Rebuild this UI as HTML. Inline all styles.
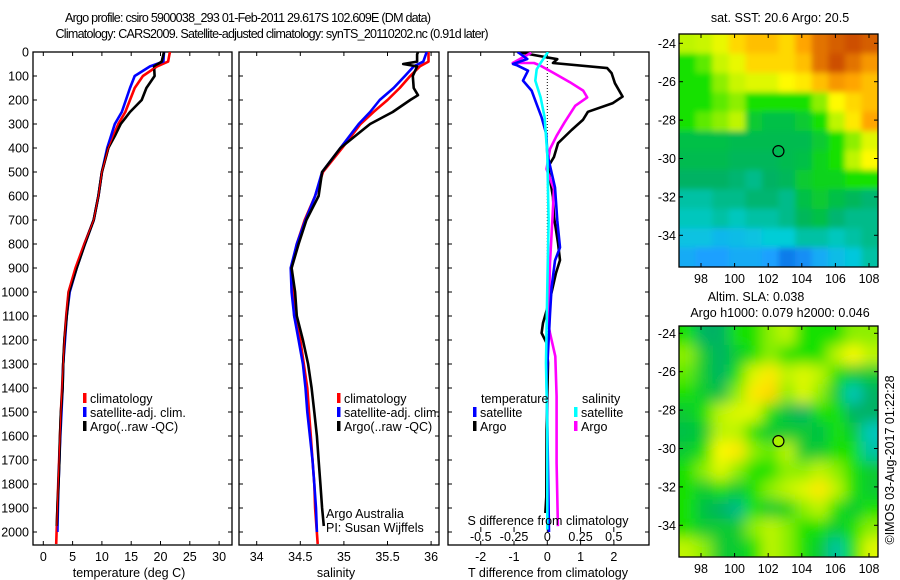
<!DOCTYPE html>
<html><head><meta charset="utf-8"><style>
body{margin:0;background:#fff}
svg{display:block;font-family:"Liberation Sans",sans-serif}
text{fill:#000}
</style></head><body>
<svg id="fig" width="900" height="580" viewBox="0 0 900 580">
<defs>
<clipPath id="c1"><rect x="33" y="52" width="199" height="493"/></clipPath>
<clipPath id="c2"><rect x="239" y="52" width="200" height="493"/></clipPath>
<clipPath id="c3"><rect x="448" y="52" width="201" height="493"/></clipPath>
<clipPath id="cm1"><rect x="679" y="34" width="199" height="233"/></clipPath>
<clipPath id="cm2"><rect x="679" y="326" width="199" height="231"/></clipPath>
<filter id="blur1" x="-5%" y="-5%" width="110%" height="110%"><feGaussianBlur stdDeviation="3"/></filter>
<filter id="blur2" x="-5%" y="-5%" width="110%" height="110%"><feGaussianBlur stdDeviation="7"/></filter>
</defs>
<text x="248" y="22" font-size="12.5" text-anchor="middle" textLength="366" lengthAdjust="spacing">Argo profile: csiro 5900038_293 01-Feb-2011 29.617S 102.609E (DM data)</text>
<text x="272" y="38" font-size="12.5" text-anchor="middle" textLength="433" lengthAdjust="spacing">Climatology: CARS2009. Satellite-adjusted climatology: synTS_20110202.nc (0.91d later)</text>
<g id="g"></g>
</svg>
<script>
// ---- data ----
const tArgoDepth=[0,10,40,60,100,150,200,250,300,350,400,500,600,700,800,900,1000,1100,1200,1300,1400,1500,1600,1700,1800,1900,1975];
const tArgo=[20.6,20.5,20.2,18.9,19.0,17.6,16.8,14.8,13.2,12.2,11.1,10.0,9.4,8.6,7.1,5.7,4.4,4.0,3.6,3.4,3.3,3.0,2.85,2.75,2.6,2.4,2.3];
const climDepth=[0,40,60,100,150,200,250,300,400,500,600,700,800,900,1000,1100,1200,1300,1400,1500,1600,1700,1800,1900,2050];
const tClim=[21.6,21.3,19.4,17.0,15.6,14.8,14.0,12.8,11.1,10.0,9.4,8.6,7.0,5.5,4.3,3.9,3.6,3.4,3.2,3.0,2.85,2.7,2.55,2.4,2.2];
const satDepth=[0,40,60,100,150,200,250,300,400,500,600,700,800,900,1000,1100,1200,1300,1400,1500,1600,1700,1800,1900,2000];
const tSat=[20.6,20.5,18.2,15.6,14.8,14.1,13.4,12.2,10.9,10.0,9.4,8.6,7.1,5.7,4.5,4.0,3.7,3.4,3.3,3.1,2.9,2.75,2.6,2.5,2.4];
const sArgoDepth=[0,10,40,50,60,100,150,180,200,250,300,350,400,500,600,700,800,900,1000,1100,1200,1300,1400,1500,1600,1700,1800,1900,1975];
const sArgo=[35.85,35.84,35.84,35.68,35.84,35.79,35.8,35.85,35.76,35.56,35.3,35.13,34.96,34.75,34.71,34.57,34.48,34.4,34.44,34.46,34.53,34.59,34.63,34.66,34.69,34.71,34.73,34.75,34.77];
const sClim=[35.97,35.97,35.87,35.76,35.64,35.5,35.34,35.19,34.98,34.76,34.67,34.55,34.46,34.4,34.42,34.43,34.5,34.54,34.58,34.6,34.62,34.64,34.66,34.67,34.7];
const sSat=[35.95,35.91,35.8,35.7,35.57,35.41,35.3,35.17,34.96,34.75,34.67,34.56,34.46,34.39,34.4,34.43,34.48,34.53,34.56,34.58,34.61,34.64,34.66,34.68,34.69];
const dTArgoDepth=[0,15,30,46,67,88,130,186,213,249,283,325,380,437,479,604,687,796,867,921,1019,1129,1171,1213,1296,1575,1854,1921];
const dTArgo=[-0.9,-0.3,0.3,0.17,1.8,1.93,2.03,2.26,1.97,1.22,1.07,0.73,0.32,0.2,0.02,0.17,0.2,0.32,0.38,0.26,0.1,-0.13,-0.17,-0.02,0.02,-0.02,-0.03,-0.06];
const dTSatDepth=[0,29,50,56,78,119,161,217,272,342,425,564,703,814,869,981,1092,1365,2000];
const dTSat=[-0.89,-0.6,-1.03,-0.9,-0.58,-0.73,-0.47,-0.32,-0.17,-0.03,0,0.23,0.3,0.38,0.23,0.13,0.08,-0.02,0.05];
const dSArgoDepth=[3,46,46,57,85,126,161,189,224,293,349,404,488,571,683,877,1140,1171,1268,1435,1713,1976];
const dSArgo=[-0.12,-0.26,-0.1,-0.05,0.04,0.17,0.27,0.3,0.21,0.13,0.07,0.02,-0.006,0.05,0.04,0.02,0.01,0.02,0.06,0.07,0.07,0.08];
const dSSatDepth=[0,46,72,119,189,272,425,703,981,1296,1575,1990];
const dSSat=[0.005,-0.05,-0.08,-0.09,-0.05,-0.02,0,0.01,0,-0.01,0,0];
const depthTicks=[0,100,200,300,400,500,600,700,800,900,1000,1100,1200,1300,1400,1500,1600,1700,1800,1900,2000];
const tTicks=[0,5,10,15,20,25,30];
const sTicks=[34,34.5,35,35.5,36];
const sTickLabels=["34","34.5","35","35.5","36"];
const dTTicks=[-2,-1,0,1,2];
const dSTicks=[-0.5,-0.25,0,0.25,0.5];
const dSTickLabels=["-0.5","-0.25","0","0.25","0.5"];
const lonTicks=[98,100,102,104,106,108];
const latTicks=[-24,-26,-28,-30,-32,-34];
const argoLon=102.609, argoLat=-29.617;
const sstGrid=[
[0.62,0.63,0.66,0.72,0.75,0.75,0.72,0.78,0.85,0.88,0.9,0.88],
[0.55,0.58,0.63,0.66,0.72,0.72,0.72,0.75,0.85,0.9,0.85,0.8],
[0.55,0.55,0.6,0.63,0.65,0.65,0.68,0.7,0.75,0.8,0.78,0.75],
[0.55,0.55,0.58,0.6,0.55,0.55,0.55,0.55,0.6,0.68,0.72,0.75],
[0.55,0.58,0.6,0.62,0.5,0.48,0.48,0.5,0.55,0.62,0.7,0.78],
[0.48,0.48,0.48,0.47,0.47,0.47,0.47,0.47,0.5,0.55,0.6,0.65],
[0.47,0.47,0.47,0.46,0.46,0.46,0.47,0.48,0.52,0.55,0.62,0.68],
[0.45,0.45,0.45,0.44,0.42,0.45,0.46,0.5,0.52,0.52,0.55,0.55],
[0.4,0.4,0.42,0.42,0.44,0.44,0.42,0.48,0.5,0.48,0.46,0.44],
[0.38,0.38,0.4,0.38,0.4,0.4,0.42,0.46,0.48,0.44,0.42,0.42],
[0.34,0.34,0.32,0.33,0.34,0.36,0.36,0.4,0.4,0.38,0.4,0.42],
[0.3,0.28,0.28,0.3,0.3,0.28,0.22,0.25,0.3,0.33,0.35,0.4]];
const slaGrid=[
[0.55,0.45,0.45,0.55,0.55,0.6,0.62,0.55,0.55,0.55,0.6,0.6],
[0.6,0.5,0.45,0.5,0.55,0.6,0.55,0.55,0.55,0.62,0.68,0.62],
[0.58,0.5,0.45,0.55,0.65,0.7,0.62,0.65,0.62,0.55,0.5,0.5],
[0.55,0.5,0.48,0.6,0.7,0.72,0.6,0.65,0.6,0.5,0.38,0.45],
[0.5,0.55,0.62,0.65,0.65,0.55,0.48,0.45,0.55,0.55,0.45,0.45],
[0.48,0.5,0.62,0.62,0.55,0.5,0.5,0.5,0.48,0.55,0.5,0.38],
[0.5,0.55,0.68,0.7,0.6,0.58,0.62,0.5,0.5,0.55,0.55,0.4],
[0.55,0.6,0.65,0.6,0.55,0.55,0.6,0.6,0.62,0.6,0.55,0.5],
[0.55,0.5,0.55,0.5,0.55,0.6,0.62,0.65,0.7,0.62,0.55,0.5],
[0.55,0.48,0.45,0.42,0.55,0.5,0.52,0.6,0.62,0.55,0.5,0.55],
[0.55,0.5,0.5,0.5,0.6,0.62,0.6,0.55,0.55,0.5,0.55,0.6],
[0.62,0.6,0.5,0.5,0.55,0.62,0.6,0.55,0.5,0.4,0.55,0.65]];

// ---- helpers ----
const NS='http://www.w3.org/2000/svg';
const G=document.getElementById('g');
function mk(tag,attrs,parent){const e=document.createElementNS(NS,tag);for(const k in attrs)e.setAttribute(k,attrs[k]);(parent||G).appendChild(e);return e;}
function txt(x,y,s,size,anchor,parent){const e=mk('text',{x:x,y:y,'font-size':size,'text-anchor':anchor||'middle'},parent);e.textContent=s;return e;}
const yD=d=>52+d*0.24;
const xT=t=>43.3+t*5.86;
const xS=s=>256.7+(s-34)*87.2;
const xDT=v=>547.3+v*33.3;
const xDS=v=>547.3+v*133;
function line(xs,ds,fx,color,clip,name,w){
  const pts=xs.map((v,i)=>fx(v).toFixed(1)+','+yD(ds[i]).toFixed(1)).join(' ');
  const p=mk('polyline',{points:pts,fill:'none',stroke:color,'stroke-width':w||2.6,'clip-path':'url(#'+clip+')','stroke-linejoin':'round'});
  
  
}
function frame(x0,x1,name){
  const r=mk('rect',{x:x0,y:52,width:x1-x0,height:493,fill:'none',stroke:'#000','stroke-width':1.3});
  
  
}
function depthAxis(x0,x1,labels){
  depthTicks.forEach(d=>{
    const y=yD(d);
    mk('line',{x1:x0,y1:y,x2:x0+4,y2:y,stroke:'#000'});
    mk('line',{x1:x1-4,y1:y,x2:x1,y2:y,stroke:'#000'});
    if(labels){const t=txt(29,y+4.5,String(d),12.5,'end');
      
      }
  });
}
function xTicks(vals,fx,labs,y0,y1,ly){
  vals.forEach((v,i)=>{const x=fx(v);
    mk('line',{x1:x,y1:y1,x2:x,y2:y1-4,stroke:'#000'});
    if(y0!==null)mk('line',{x1:x,y1:y0,x2:x,y2:y0+4,stroke:'#000'});
    const t=txt(x,ly,labs[i],12.5);
    
    
  });
}
function legendItem(x,y,color,label,name){
  mk('rect',{x:x,y:y-10,width:3.5,height:10,fill:color});
  const t=txt(x+7,y,label,12.5,'start');
  
  
}

// ---- panel 1 temperature ----
frame(33,232,'temperature-panel');
depthAxis(33,232,true);
xTicks(tTicks,xT,tTicks.map(String),52,545,561);
line(tClim,climDepth,xT,'#ff0000','c1','climatology-temperature-line');
line(tSat,satDepth,xT,'#0000ff','c1','satellite-temperature-line');
line(tArgo,tArgoDepth,xT,'#000000','c1','argo-temperature-line');
line(tClim,climDepth,xT,'#ff0000','c1','climatology-temperature-line-top',1.2);
let e=txt(129,577,'temperature (deg C)',12.5);
legendItem(83,403,'#ff0000','climatology','legend-climatology');
legendItem(83,417,'#0000ff','satellite-adj. clim.','legend-satellite-adj');
legendItem(83,431,'#000000','Argo(..raw -QC)','legend-argo');

// ---- panel 2 salinity ----
frame(239,439,'salinity-panel');
depthAxis(239,439,false);
xTicks(sTicks,xS,sTickLabels,52,545,561);
line(sClim,climDepth,xS,'#ff0000','c2','climatology-salinity-line');
line(sSat,satDepth,xS,'#0000ff','c2','satellite-salinity-line');
line(sArgo,sArgoDepth,xS,'#000000','c2','argo-salinity-line');
e=txt(336,577,'salinity',12.5);
legendItem(337,403,'#ff0000','climatology','legend-climatology-2');
legendItem(337,417,'#0000ff','satellite-adj. clim.','legend-satellite-adj-2');
legendItem(337,431,'#000000','Argo(..raw -QC)','legend-argo-2');
e=txt(326,518,'Argo Australia',12.5,'start');
e=txt(326,532,'PI: Susan Wijffels',12.5,'start');

// ---- panel 3 differences ----
frame(448,649,'difference-panel');
depthAxis(448,649,false);
mk('line',{x1:xDT(0),y1:52,x2:xDT(0),y2:525,stroke:'#000','stroke-dasharray':'1,2'});
xTicks(dTTicks,xDT,dTTicks.map(String),52,545,561);
dSTicks.forEach((v,i)=>{const x=xDS(v);mk('line',{x1:x,y1:532,x2:x,y2:527,stroke:'#000'});
  const t=txt(x,541,dSTickLabels[i],12.5);});
line(dTArgo,dTArgoDepth,xDT,'#000000','c3','argo-temperature-diff-line');
line(dSArgo,dSArgoDepth,xDS,'#ff00ff','c3','argo-salinity-diff-line');
line(dTSat,dTSatDepth,xDT,'#0000ff','c3','satellite-temperature-diff-line');
line(dSSat,dSSatDepth,xDS,'#00ffff','c3','satellite-salinity-diff-line');
e=txt(548,525,'S difference from climatology',12.5);
e=txt(548,577,'T difference from climatology',12.5);
e=txt(481,403,'temperature',12.5,'start');
e=txt(582,403,'salinity',12.5,'start');
legendItem(473,417,'#0000ff','satellite','legend-t-satellite');
legendItem(473,431,'#000000','Argo','legend-t-argo');
legendItem(574,417,'#00ffff','satellite','legend-s-satellite');
legendItem(574,431,'#ff00ff','Argo','legend-s-argo');

// ---- maps ----
const cstops=[[0,[0,0,160]],[0.15,[0,80,210]],[0.28,[30,160,255]],[0.36,[0,205,215]],[0.45,[0,178,100]],[0.55,[20,225,0]],[0.62,[190,245,0]],[0.68,[255,250,0]],[0.78,[255,165,0]],[0.9,[205,80,0]],[1,[150,30,0]]];
function cmap(v){for(let i=1;i<cstops.length;i++){if(v<=cstops[i][0]){const a=cstops[i-1],b=cstops[i],f=(v-a[0])/(b[0]-a[0]);
  return 'rgb('+a[1].map((c,k)=>Math.round(c+(b[1][k]-c)*f)).join(',')+')';}}return 'rgb(150,30,0)';}
function drawMap(grid,x0,y0,w,h,lat24y,latScale,clip,blur,name){
  const grp=mk('g',{'clip-path':'url(#'+clip+')'});
  
  
  const inner=mk('g',{filter:'url(#'+blur+')'},grp);
  const rows=grid.length,cols=grid[0].length,cw=w/cols,ch=h/rows;
  mk('rect',{x:x0-20,y:y0-20,width:w+40,height:h+40,fill:cmap(0.5)},inner);
  grid.forEach((row,r)=>row.forEach((v,c)=>{
    const cell=mk('rect',{x:x0+c*cw-(c==0?20:0),y:y0+r*ch-(r==0?20:0),width:cw+(c==0||c==cols-1?20:0)+0.5,height:ch+(r==0||r==rows-1?20:0)+0.5,fill:cmap(v)},inner);
    
    
  }));
  mk('rect',{x:x0,y:y0,width:w,height:h,fill:'none',stroke:'#000','stroke-width':1.3});
  const xL=lon=>701+(lon-98)*16.8;
  lonTicks.forEach(l=>{const x=xL(l);mk('line',{x1:x,y1:y0+h,x2:x,y2:y0+h-4,stroke:'#000'});mk('line',{x1:x,y1:y0,x2:x,y2:y0+4,stroke:'#000'});
    const t=txt(x,y0+h+16,String(l),12.5);});
  const yL=lat=>lat24y+(-24-lat)*latScale;
  latTicks.forEach(l=>{const y=yL(l);mk('line',{x1:x0,y1:y,x2:x0+4,y2:y,stroke:'#000'});mk('line',{x1:x0+w-4,y1:y,x2:x0+w,y2:y,stroke:'#000'});
    const t=txt(x0-3,y+4.5,String(l),12.5,'end');});
  const c=mk('circle',{cx:xL(argoLon),cy:yL(argoLat),r:5.5,fill:blur=='blur2'?'#a8f000':'none',stroke:'#000','stroke-width':1.2});
  
  
}
drawMap(sstGrid,679,34,199,233,43.3,19.2,'cm1','blur1','sst-map');
drawMap(slaGrid,679,326,199,231,333.3,19.2,'cm2','blur2','sla-map');
e=txt(780,22,'sat. SST: 20.6 Argo: 20.5',12.5);
e=txt(756,301,'Altim. SLA: 0.038',12.5);
e=txt(780,317,'Argo h1000: 0.079 h2000: 0.046',12.5);
e=txt(0,0,'©IMOS 03-Aug-2017 01:22:28',12.5);e.setAttribute('transform','translate(894,460) rotate(-90)');

</script>
</body></html>
